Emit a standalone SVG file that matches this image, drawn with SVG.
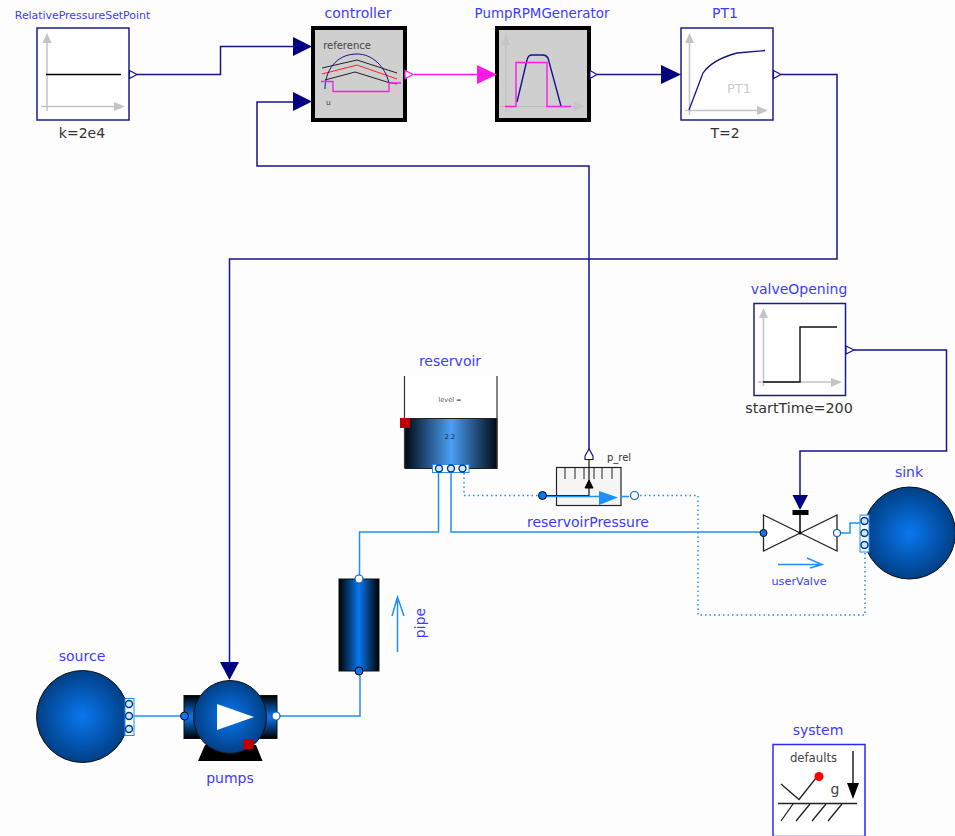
<svg xmlns="http://www.w3.org/2000/svg" width="955" height="836" viewBox="0 0 955 836">
<style>
text{font-family:"DejaVu Sans",sans-serif;text-anchor:middle}
.n{fill:#3c3cff;font-size:14px}
.d{fill:#333;font-size:14px}
.box{fill:#fff;stroke:#1c1c8c;stroke-width:1.5}
.thick{fill:#cfcfcf;stroke:#000;stroke-width:4}
.ax{fill:none;stroke:#c4c4c4;stroke-width:1.5}
.axh{fill:#c4c4c4}
.sig{fill:none;stroke:#14148c;stroke-width:1.5}
.mag{fill:none;stroke:#ff19e6;stroke-width:1.5}
.flu{fill:none;stroke:#1f8fff;stroke-width:1.5}
.dot{fill:none;stroke:#1f8fff;stroke-width:1.5;stroke-dasharray:1.5 3}
.ti{fill:#000080}
.to{fill:#fff;stroke:#14148c;stroke-width:1.2}
.pb{fill:#0a78f0;stroke:#000;stroke-width:1}
.pw{fill:#fff;stroke:#0a5fc0;stroke-width:1.2}
.ln{fill:none;stroke:#222;stroke-width:1.3}
.pa{fill:#fff;stroke:#1f8fff;stroke-width:1}
.pc{fill:#cfe6ff;stroke:#023a80;stroke-width:1.4}
</style>
<defs>
<radialGradient id="ball"><stop offset="0" stop-color="#0a78f0"/><stop offset="1" stop-color="#003f86"/></radialGradient>
<linearGradient id="pipeg"><stop offset="0" stop-color="#000"/><stop offset=".5" stop-color="#0a78f0"/><stop offset="1" stop-color="#000"/></linearGradient>
<linearGradient id="resg"><stop offset="0" stop-color="#000a14"/><stop offset=".5" stop-color="#4a9ff5"/><stop offset="1" stop-color="#000a14"/></linearGradient>
<linearGradient id="sideg" x1="0" y1="0" x2="0" y2="1"><stop offset="0" stop-color="#000"/><stop offset=".5" stop-color="#0a78f0"/><stop offset="1" stop-color="#000"/></linearGradient>
</defs>
<rect width="955" height="836" fill="#fdfdfd"/>
<g id="connectors">
<path class="sig" d="M137 74.500H220.500V46.500H294"/>
<path class="sig" d="M589 450V166H257V102H294"/>
<path class="mag" d="M414 74.500H478"/>
<path class="sig" d="M597 74.500H662"/>
<path class="sig" d="M781 74.500H837V259H229.500V662"/>
<path class="sig" d="M854 350H946.500V451H800V495"/>
<path class="flu" d="M134 716H184"/>
<path class="flu" d="M276 716H360V671"/>
<path class="flu" d="M359.500 579V532H438.500V472"/>
<path class="flu" d="M451 472V532H763"/>
<path class="flu" d="M837 533H850V523H860"/>
<path class="dot" d="M464 473V495.500H541"/>
<path class="dot" d="M640 495.500H698V615H865V553"/>
</g>
<g id="RelativePressureSetPoint">
<text class="n" x="82.500" y="19" style="font-size:10.900px">RelativePressureSetPoint</text>
<rect class="box" x="37" y="28" width="92" height="92"/>
<path class="ax" d="M47 42V111M41 106.500H118"/>
<path class="axh" d="M47 33L51.500 43H42.500ZM125 106.500L114 102V111Z"/>
<path d="M46 74.500H121" stroke="#000" stroke-width="1.500" fill="none"/>
<path class="to" d="M129.500 70.500L137 74.500L129.500 78.500Z"/>
<text class="d" x="82" y="138">k=2e4</text>
</g>
<g id="controller">
<text class="n" x="358" y="18">controller</text>
<rect class="thick" x="313" y="28" width="92" height="92"/>
<text x="347" y="49" fill="#444" style="font-size:10px">reference</text>
<text x="328.500" y="105" fill="#444" style="font-size:7.500px">u</text>
<path d="M322 68L357 60L397 73" fill="none" stroke="#222"/>
<path d="M322 74L357 65L397 79" fill="none" stroke="#ff2020"/>
<path d="M325 80L355 72L387 82L397 84" fill="none" stroke="#222"/>
<path d="M325 89C325 72 335 54 357 54C372 54 385 66 389 83" fill="none" stroke="#14148c"/>
<path d="M321 81.500H333V91.500H389V83H401" fill="none" stroke="#ff19e6" stroke-width="1.300"/>
<path class="ti" d="M293 37L312 46.500L293 56ZM293 92L312 101.500L293 111Z"/>
<path d="M405 70.500L413 74.500L405 78.500Z" fill="#fff" stroke="#ff19e6" stroke-width="1.300"/>
</g>
<g id="PumpRPMGenerator">
<text class="n" x="542" y="18" style="font-size:13.400px">PumpRPMGenerator</text>
<rect class="thick" x="497" y="28" width="92" height="92"/>
<path d="M506 35V112M500 106.500H578" fill="none" stroke="#bbb"/>
<path class="axh" d="M506 33L510 45H502ZM585 106.500L574 102V111Z"/>
<path d="M517 102L527 60Q528 55 532 55H543Q546 55 548 58L561 106" fill="none" stroke="#14148c" stroke-width="1.400"/>
<path d="M505 106.500H516V62.500H547V106.500H571" fill="none" stroke="#ff19e6" stroke-width="1.400"/>
<path d="M477 65L497 74.500L477 84Z" fill="#ff19e6"/>
<path class="to" d="M590 70.500L597 74.500L590 78.500Z"/>
</g>
<g id="PT1">
<text class="n" x="725" y="18">PT1</text>
<rect class="box" x="681" y="28" width="92" height="92"/>
<path class="ax" d="M689.500 40V115M685 110.500H758"/>
<path class="axh" d="M689.500 33L694 43H685ZM768 110.500L757 106V115Z"/>
<path d="M689 110L703 73C710 63 722 57 737 53L765 50.500" fill="none" stroke="#14148c" stroke-width="1.300"/>
<text x="739" y="93" fill="#ccc" style="font-size:13px">PT1</text>
<path class="ti" d="M661 65L681 74.500L661 84Z"/>
<path class="to" d="M773.500 70.500L781 74.500L773.500 78.500Z"/>
<text class="d" x="725" y="138">T=2</text>
</g>
<g id="valveOpening">
<text class="n" x="799" y="294">valveOpening</text>
<rect class="box" x="754" y="303.500" width="91.500" height="92"/>
<path class="ax" d="M763.500 315V386M758 382H832"/>
<path class="axh" d="M763.500 308L768 318H759ZM842 382L831 378V387Z"/>
<path d="M763 382H800V327H837" fill="none" stroke="#111" stroke-width="1.400"/>
<path class="to" d="M846 346L854 350L846 354Z"/>
<text class="d" x="799" y="413" style="font-size:14.300px">startTime=200</text>
</g>
<g id="reservoir">
<text class="n" x="450" y="366">reservoir</text>
<rect x="405" y="376" width="92" height="43" fill="#fff"/>
<rect x="405" y="418.500" width="92" height="50" fill="url(#resg)" stroke="#222"/>
<path d="M404.500 376V468M497 376V468" stroke="#333" fill="none" stroke-width="1.200"/>
<text x="450" y="402" fill="#555" style="font-size:6.500px">level =</text>
<text x="450" y="439" fill="#222" style="font-size:6.500px">2.2</text>
<rect x="400" y="418" width="10" height="10" fill="#c00000"/>
<rect class="pa" x="432.500" y="464.500" width="36.500" height="8"/>
<circle class="pc" cx="439" cy="468.500" r="3.500"/><circle class="pc" cx="451" cy="468.500" r="3.500"/><circle class="pc" cx="462.500" cy="468.500" r="3.500"/>
</g>
<g id="reservoirPressure">
<path d="M585 456L589 449L593 456V459.500H585Z" fill="#fff" stroke="#14148c" stroke-width="1.200"/>
<text x="619" y="461" fill="#333" style="font-size:10px">p_rel</text>
<rect x="556.500" y="467.500" width="64.500" height="38" fill="#f5f5f5" stroke="#222" stroke-width="1.200"/>
<path d="M565 468V479M575 468V479M584 468V479M594 468V479M602 468V479M612 468V479" stroke="#222" fill="none"/>
<path d="M589 459V495.500H546" stroke="#111" fill="none" stroke-width="1.200"/>
<path d="M585 488L589 480L593 488Z" fill="#000" stroke="#000"/>
<path class="flu" d="M546 496.500H600M620 496.500H629" stroke-width="1.800"/>
<path d="M599 491V505L618 497.500Z" fill="#1f8fff"/>
<circle class="pb" cx="542.500" cy="495.500" r="4"/>
<circle class="pw" cx="634.500" cy="495.500" r="4"/>
<text class="n" x="588" y="527">reservoirPressure</text>
</g>
<g id="userValve">
<path d="M763.500 515L837 551V515L763.500 551Z" fill="#fff" stroke="#222" stroke-width="1.300"/>
<path d="M800 510V533" stroke="#000" stroke-width="1.500"/>
<rect x="792.500" y="510" width="16" height="5" fill="#000"/>
<circle cx="800" cy="533" r="1.500" fill="#000"/>
<path class="ti" d="M792.500 495H808L800 510Z"/>
<circle class="pb" cx="763.500" cy="533" r="3.500"/>
<circle class="pw" cx="837" cy="533" r="3.500"/>
<path class="flu" d="M778 564.500H822M807 558L822 564.500L810 568" stroke-width="1.200"/>
<text class="n" x="799" y="585" style="font-size:11.300px">userValve</text>
</g>
<g id="sink">
<text class="n" x="909" y="477">sink</text>
<circle cx="909.500" cy="533" r="46" fill="url(#ball)" stroke="#111"/>
<rect class="pa" x="860" y="515" width="9" height="37"/>
<circle class="pc" cx="864.500" cy="521" r="3.500"/><circle class="pc" cx="864.500" cy="533" r="3.500"/><circle class="pc" cx="864.500" cy="545" r="3.500"/>
</g>
<g id="pipe">
<rect x="339" y="579" width="40" height="92" fill="url(#pipeg)" stroke="#111"/>
<circle class="pw" cx="359" cy="579" r="4"/>
<circle class="pb" cx="359" cy="671" r="4"/>
<path class="flu" d="M397.500 652V597M392 616L397.500 597L404 616"/>
<text class="n" x="0" y="0" transform="translate(425 623) rotate(-90)">pipe</text>
</g>
<g id="source">
<text class="n" x="82" y="661">source</text>
<circle cx="82.500" cy="716.500" r="46" fill="url(#ball)" stroke="#111"/>
<rect class="pa" x="125" y="698.500" width="9" height="37"/>
<circle class="pc" cx="129" cy="704" r="3.500"/><circle class="pc" cx="129" cy="716" r="3.500"/><circle class="pc" cx="129" cy="729" r="3.500"/>
</g>
<g id="pumps">
<path class="ti" d="M220 662H239L229.500 680Z"/>
<path d="M198 761L205 745H256L262.500 761Z" fill="#000"/>
<rect x="184" y="695.500" width="93" height="43" fill="url(#sideg)" stroke="#111"/>
<circle cx="230" cy="717" r="36.500" fill="url(#ball)" stroke="#111"/>
<path d="M217 704L254 717L217 730Z" fill="#fff"/>
<rect x="243.500" y="739" width="10" height="10" fill="#c00000"/>
<circle class="pb" cx="184.500" cy="716" r="4"/>
<circle class="pw" cx="276" cy="716" r="4"/>
<text class="n" x="230" y="783">pumps</text>
</g>
<g id="system">
<text class="n" x="818" y="735">system</text>
<rect x="773" y="744.500" width="92" height="92" fill="#fff" stroke="#2a2aff" stroke-width="1.500"/>
<text x="813.500" y="762" fill="#444" style="font-size:11.700px">defaults</text>
<path class="ln" d="M781 784L799 799.500L816 778"/>
<circle cx="819" cy="776.500" r="4.500" fill="#ff0000"/>
<text x="835" y="794" fill="#444" style="font-size:14px">g</text>
<path d="M853 751V785" stroke="#222" stroke-width="1.500"/>
<path d="M847 783H859L853 799Z" fill="#000"/>
<path d="M778 803.500H857" stroke="#222" stroke-width="1.500"/>
<path class="ln" d="M781 821L793 804M796 821L810 804M812 821L826 804M828 821L842 804"/>
</g>
</svg>
